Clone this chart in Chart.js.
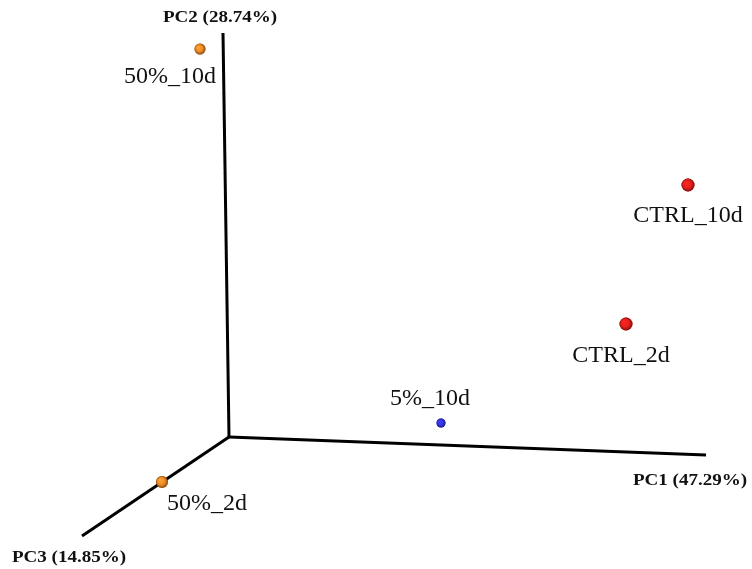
<!DOCTYPE html>
<html>
<head>
<meta charset="utf-8">
<script src="https://cdn.jsdelivr.net/npm/chart.js@4"></script>
<style>
  html, body { margin: 0; padding: 0; background: #fff; }
  #wrap { width: 752px; height: 569px; }
</style>
</head>
<body>
<div id="wrap"><canvas id="myChart" width="752" height="569"></canvas></div>
<script>
// projected PCA positions (picture units, y up)
const samples = ["50%_10d", "CTRL_10d", "CTRL_2d", "5%_10d", "50%_2d"];
const sampleX = [200, 688, 626, 441, 162];
const sampleY = [520, 384, 245, 146, 87];
const sampleColor = ["#f08c28", "#e8201c", "#e8201c", "#3434e6", "#f08c28"];
const sampleSize = [5.5, 6.5, 6.5, 4.5, 6];

// 3D axes as projected on screen
const axisNames = ["PC1 (47.29%)", "PC2 (28.74%)", "PC3 (14.85%)"];
const originX = 229, originY = 132;
const axisEndX = [706, 223, 82];
const axisEndY = [114, 536, 33];

// label offsets in pixels (text centre, baseline)
const labelDx = [-30, 0, -5, -11, 45];
const labelDy = [34, 37, 38, -18, 28];
const titleDx = [-16, -3, -13];
const titleDy = [30, -11, 26];

function shade(hex, f) {
    const n = parseInt(hex.slice(1), 16);
    let r = (n >> 16) & 255, g = (n >> 8) & 255, b = n & 255;
    r = Math.round(r * f); g = Math.round(g * f); b = Math.round(b * f);
    return 'rgb(' + Math.min(255, r) + ',' + Math.min(255, g) + ',' + Math.min(255, b) + ')';
}

const axisSets = axisNames.map((name, i) => ({
    label: name,
    type: 'line',
    data: [{x: originX, y: originY}, {x: axisEndX[i], y: axisEndY[i]}],
    borderColor: '#000',
    borderWidth: 3,
    pointRadius: 0,
    tension: 0,
    fill: false
}));

// sphere shading on top of the points
const spherePlugin = {
    id: 'spheres',
    afterDatasetsDraw(chart) {
        const c = chart.ctx;
        const meta = chart.getDatasetMeta(axisSets.length);
        meta.data.forEach((pt, i) => {
            const r = sampleSize[i];
            const g = c.createRadialGradient(pt.x - r * 0.35, pt.y - r * 0.35, 0, pt.x, pt.y, r);
            g.addColorStop(0, shade(sampleColor[i], 1.2));
            g.addColorStop(0.6, sampleColor[i]);
            g.addColorStop(1, shade(sampleColor[i], 0.55));
            c.save();
            c.fillStyle = g;
            c.beginPath();
            c.arc(pt.x, pt.y, r, 0, Math.PI * 2);
            c.fill();
            c.restore();
        });
    }
};

const labelPlugin = {
    id: 'labels',
    afterDraw(chart) {
        const c = chart.ctx, sx = chart.scales.x, sy = chart.scales.y;
        c.save();
        c.fillStyle = '#111';
        c.textAlign = 'center';
        c.textBaseline = 'alphabetic';
        c.font = '24px "Liberation Serif", "Times New Roman", serif';
        samples.forEach((s, i) => {
            const px = sx.getPixelForValue(sampleX[i]) + labelDx[i];
            const py = sy.getPixelForValue(sampleY[i]) + labelDy[i];
            c.fillText(s, px, py);
        });
        c.font = 'bold 17px "Liberation Serif", "Times New Roman", serif';
        axisNames.forEach((t, i) => {
            const px = sx.getPixelForValue(axisEndX[i]) + titleDx[i];
            const py = sy.getPixelForValue(axisEndY[i]) + titleDy[i];
            c.save();
            c.translate(px, py);
            c.scale(1.12, 1);
            c.fillText(t, 0, 0);
            c.restore();
        });
        c.restore();
    }
};

new Chart(document.getElementById("myChart"), {
    type: 'scatter',
    data: {
        datasets: axisSets.concat([{
            label: "Samples",
            data: samples.map((s, i) => ({x: sampleX[i], y: sampleY[i]})),
            pointRadius: sampleSize,
            pointHoverRadius: sampleSize,
            borderWidth: 0,
            backgroundColor: sampleColor
        }])
    },
    options: {
        responsive: false,
        animation: false,
        layout: { padding: 0, autoPadding: false },
        plugins: { legend: { display: false }, tooltip: { enabled: false } },
        scales: {
            x: { type: 'linear', min: 0, max: 752, display: false },
            y: { type: 'linear', min: 0, max: 569, display: false }
        }
    },
    plugins: [spherePlugin, labelPlugin]
});
</script>
</body>
</html>
